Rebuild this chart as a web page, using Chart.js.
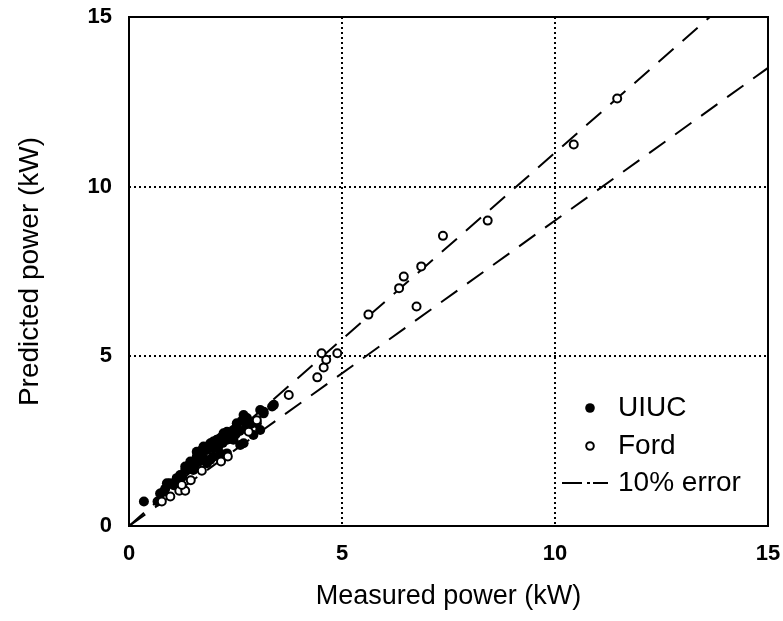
<!DOCTYPE html>
<html>
<head>
<meta charset="utf-8">
<script src="https://cdn.jsdelivr.net/npm/chart.js@4"></script>
<style>
    html, body { margin: 0; padding: 0; background: #fff; }
    #wrap { width: 783px; height: 621px; }
</style>
</head>
<body>
<div id="wrap"><canvas id="chart" width="783" height="621"></canvas></div>
<script>
// 坐标轴刻度
const axisTicks = [0, 5, 10, 15];

// UIUC 数据 (measured, predicted)
const uiucMeasured = [0.35, 0.67, 0.73, 0.81, 0.85, 0.89, 0.96, 1.05, 1.12, 1.2, 1.25, 1.32, 1.32, 1.44, 1.44, 1.51, 1.55, 1.59, 1.59, 1.65, 1.67, 1.71, 1.75, 1.75, 1.83, 1.83, 1.91, 1.91, 1.98, 1.98, 1.98, 2.0, 2.06, 2.1, 2.14, 2.15, 2.2, 2.22, 2.3, 2.3, 2.3, 2.38, 2.4, 2.45, 2.45, 2.5, 2.53, 2.53, 2.6, 2.61, 2.65, 2.69, 2.69, 2.75, 2.77, 2.85, 2.92, 3.0, 3.08, 3.08, 3.16, 3.16, 3.36, 3.4];
const uiucPredicted = [0.72, 0.72, 0.96, 1.01, 1.1, 1.26, 1.26, 1.2, 1.41, 1.5, 1.45, 1.65, 1.75, 1.85, 1.9, 1.65, 1.8, 2.04, 2.19, 1.9, 2.04, 2.24, 2.0, 2.34, 1.85, 2.24, 1.95, 2.44, 2.04, 2.44, 2.49, 2.3, 2.54, 2.35, 2.14, 2.6, 2.45, 2.73, 2.14, 2.54, 2.78, 2.73, 2.6, 2.54, 2.83, 2.7, 2.93, 3.03, 2.8, 2.39, 3.1, 2.44, 3.27, 2.9, 3.18, 3.0, 2.68, 3.03, 2.83, 3.42, 3.32, 3.37, 3.52, 3.57];

// Ford 数据 (measured, predicted)
const fordMeasured = [0.77, 0.97, 1.18, 1.32, 1.24, 1.45, 1.71, 2.16, 2.32, 2.81, 3.0, 3.75, 4.42, 4.57, 4.63, 4.52, 4.89, 5.62, 6.75, 6.34, 6.45, 6.86, 7.37, 8.42, 10.44, 11.46];
const fordPredicted = [0.72, 0.87, 1.04, 1.04, 1.21, 1.35, 1.63, 1.9, 2.05, 2.78, 3.12, 3.86, 4.38, 4.67, 4.9, 5.09, 5.09, 6.23, 6.47, 7.01, 7.35, 7.65, 8.55, 9.0, 11.24, 12.6];

// 10% 误差线
const errorX = [0, 15];
const errorUpper = [0, 16.5];
const errorLower = [0, 13.5];

const toPoints = (xs, ys) => xs.map((x, i) => ({ x: x, y: ys[i] }));

// 图例
const legendItems = ['UIUC', 'Ford', '10% error'];

const FONT = '"Liberation Sans", Arial, Helvetica, sans-serif';

// 边框 + 图例
const framePlugin = {
    id: 'frameAndLegend',
    afterDatasetsDraw(chart) {
        const { ctx, chartArea: a } = chart;
        ctx.save();
        ctx.strokeStyle = '#000';
        ctx.lineWidth = 2;
        ctx.setLineDash([]);
        ctx.strokeRect(a.left, a.top, a.right - a.left, a.bottom - a.top);

        ctx.font = '28px ' + FONT;
        ctx.fillStyle = '#000';
        ctx.textBaseline = 'middle';
        const textX = 618;
        const markX = 590;
        const rows = [408, 446, 483];

        ctx.beginPath();
        ctx.arc(markX, rows[0], 4.8, 0, Math.PI * 2);
        ctx.fill();

        ctx.beginPath();
        ctx.arc(markX, rows[1], 3.8, 0, Math.PI * 2);
        ctx.fillStyle = '#fff';
        ctx.fill();
        ctx.stroke();
        ctx.fillStyle = '#000';

        ctx.beginPath();
        ctx.moveTo(562, rows[2]); ctx.lineTo(582, rows[2]);
        ctx.moveTo(587, rows[2]); ctx.lineTo(590, rows[2]);
        ctx.moveTo(593, rows[2]); ctx.lineTo(608, rows[2]);
        ctx.stroke();

        legendItems.forEach((t, i) => ctx.fillText(t, textX, rows[i]));
        ctx.restore();
    }
};

const gridColor = ctx => (ctx.tick && (ctx.tick.value === 5 || ctx.tick.value === 10)) ? '#000' : 'rgba(0,0,0,0)';

new Chart(document.getElementById('chart'), {
    type: 'scatter',
    data: {
        datasets: [
            {
                label: 'Ford',
                data: toPoints(fordMeasured, fordPredicted),
                pointRadius: 4,
                pointBorderWidth: 2,
                pointBackgroundColor: '#fff',
                pointBorderColor: '#000',
                order: 1
            },
            {
                label: 'UIUC',
                data: toPoints(uiucMeasured, uiucPredicted),
                pointRadius: 5,
                pointBorderWidth: 0,
                pointBackgroundColor: '#000',
                pointBorderColor: '#000',
                order: 2
            },
            {
                label: '10% error',
                data: toPoints(errorX, errorUpper),
                showLine: true,
                pointRadius: 0,
                borderColor: '#000',
                borderWidth: 2,
                borderDash: [20, 12],
                order: 3
            },
            {
                label: '10% error (lower)',
                data: toPoints(errorX, errorLower),
                showLine: true,
                pointRadius: 0,
                borderColor: '#000',
                borderWidth: 2,
                borderDash: [20, 12],
                order: 3
            }
        ]
    },
    options: {
        responsive: false,
        animation: false,
        devicePixelRatio: 1,
        layout: { padding: { top: 17, right: 15, left: 0, bottom: 0 } },
        plugins: {
            legend: { display: false },
            tooltip: { enabled: false }
        },
        scales: {
            x: {
                type: 'linear',
                min: 0,
                max: 15,
                afterBuildTicks: s => { s.ticks = axisTicks.map(v => ({ value: v })); },
                afterFit: s => { s.height = 95; s.paddingLeft = 0; s.paddingRight = 0; },
                ticks: {
                    color: '#000',
                    padding: 15,
                    font: { family: FONT, size: 22, weight: 'bold' }
                },
                grid: { color: gridColor, lineWidth: 2, drawTicks: false },
                border: { display: false, dash: [2, 3] },
                title: {
                    display: true,
                    text: 'Measured power (kW)',
                    color: '#000',
                    padding: { top: 0, bottom: 8 },
                    font: { family: FONT, size: 27 }
                }
            },
            y: {
                type: 'linear',
                min: 0,
                max: 15,
                afterBuildTicks: s => { s.ticks = axisTicks.map(v => ({ value: v })); },
                afterFit: s => { s.width = 129; s.paddingTop = 0; s.paddingBottom = 0; },
                ticks: {
                    color: '#000',
                    padding: 17,
                    font: { family: FONT, size: 22, weight: 'bold' }
                },
                grid: { color: gridColor, lineWidth: 2, drawTicks: false },
                border: { display: false, dash: [2, 3] },
                title: {
                    display: true,
                    text: 'Predicted power (kW)',
                    color: '#000',
                    padding: { top: 13, bottom: 0 },
                    font: { family: FONT, size: 28 }
                }
            }
        }
    },
    plugins: [framePlugin]
});
</script>
</body>
</html>
